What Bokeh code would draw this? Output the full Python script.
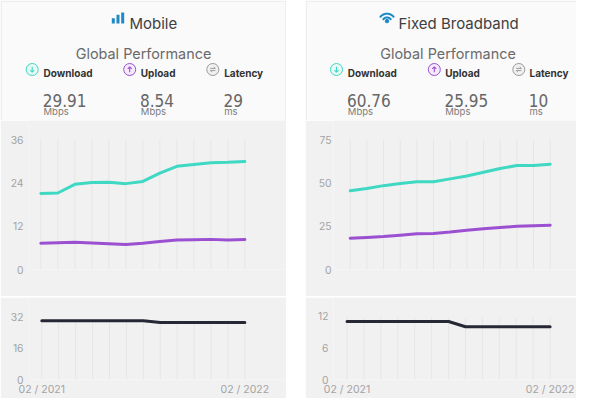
import math
from bokeh.plotting import figure
from bokeh.layouts import row, column
from bokeh.models import Range1d, FixedTicker, Spacer
from bokeh.core.properties import value
from bokeh.embed import file_html
from bokeh.resources import INLINE

# ---------------- data ----------------
months = ["02 / 2021", "03 / 2021", "04 / 2021", "05 / 2021", "06 / 2021", "07 / 2021",
          "08 / 2021", "09 / 2021", "10 / 2021", "11 / 2021", "12 / 2021", "01 / 2022", "02 / 2022"]
month_idx = list(range(len(months)))

mobile_download = [21.1, 21.2, 23.6, 24.1, 24.2, 23.8, 24.4, 26.7, 28.6, 29.1, 29.6, 29.7, 29.91]
mobile_upload = [7.3, 7.4, 7.55, 7.35, 7.15, 6.95, 7.25, 7.75, 8.15, 8.25, 8.35, 8.2, 8.3]
mobile_latency = [30, 30, 30, 30, 30, 30, 30, 29, 29, 29, 29, 29, 29]

fixed_download = [45.5, 46.8, 48.4, 49.7, 50.7, 50.7, 52.3, 54.0, 56.1, 58.3, 60.0, 60.0, 60.76]
fixed_upload = [18.1, 18.5, 19.0, 19.8, 20.6, 20.8, 21.6, 22.7, 23.5, 24.3, 24.9, 25.3, 25.6]
fixed_latency = [11, 11, 11, 11, 11, 11, 11, 10, 10, 10, 10, 10, 10]

summary_labels = ["Download", "Upload", "Latency"]
summary_units = ["Mbps", "Mbps", "ms"]
mobile_summary = ["29.91", "8.54", "29"]
fixed_summary = ["60.76", "25.95", "10"]

mobile_speed_ticks = [0, 12, 24, 36]
mobile_latency_ticks = [0, 16, 32]
fixed_speed_ticks = [0, 25, 50, 75]
fixed_latency_ticks = [0, 6, 12]

# ---------------- style ----------------
FONT = "Inter"
NUM_FONT = "DejaVu Sans Condensed"
TEAL = "#3fd8c2"
PURPLE = "#9b50d2"
DARK = "#262835"
BLUE = "#1d8ac6"
CHART_BG = "#f1f1f1"
CARD_BG = "#fafafa"
GRID = "#e6e6e6"
TICK = "#a3a3a3"

HEADER_H, UPPER_H, SEP_H, LOWER_H = 120, 176, 1, 101


def base_fig(width, height, xr, yr, **kw):
    opts = dict(width=width, height=height, x_range=xr, y_range=yr,
                output_backend="svg", toolbar_location=None,
                min_border=0, outline_line_color=None)
    opts.update(kw)
    p = figure(**opts)
    p.frame_align = False
    return p


def header(width, x0, x1, title, title_x, kind, values, label_x, icon_x, right_open):
    p = base_fig(width, HEADER_H, Range1d(x0, x1), Range1d(123, 3),
                 x_axis_type=None, y_axis_type=None,
                 background_fill_color="white", border_fill_color="white")
    # card
    p.quad(left=[x0 + 0.6], right=[x1 + 5 if right_open else x1 - 0.6], top=[3.6], bottom=[140],
           fill_color=CARD_BG, line_color="#e6e6e6", line_width=1)
    # title icon
    if kind == "bars":
        bx = title_x - 17.7
        p.quad(left=[bx, bx + 4.7, bx + 9.4], right=[bx + 3, bx + 7.7, bx + 12.4],
               top=[20.7, 17.3, 15], bottom=[26, 26, 26],
               fill_color=BLUE, line_color=None)
    else:
        cx, cy = title_x - 11.5, 24.8
        xs, ys = [], []
        for r in (4.8, 8.6):
            angs = [math.radians(40 + i * 5) for i in range(21)]
            xs.append([cx + r * math.cos(a) for a in angs])
            ys.append([cy - r * math.sin(a) for a in angs])
        p.multi_line(xs, ys, line_color=BLUE, line_width=2, line_cap="round")
        p.scatter([cx], [cy - 1.2], size=3.5, color=BLUE)
    p.text([title_x], [26.3], text=[title], text_font=value(FONT),
           text_font_size="15px", text_color="#404040",
           text_align="left", text_baseline="alphabetic")
    p.text([(x0 + x1) / 2 if not right_open else 450.5], [56.3], text=["Global Performance"],
           text_font=value(FONT), text_font_size="14.4px", text_color="#6a6a6a",
           text_align="center", text_baseline="alphabetic")
    # metric icons
    cols = [TEAL, PURPLE, "#9a9a9a"]
    fills = ["#e7faf6", "#f4eafb", "#f1f1f1"]
    cy = 72
    p.scatter(icon_x, [cy] * 3, size=12, line_color=cols, fill_color=fills, line_width=1)
    ax = icon_x[0]
    p.multi_line([[ax, ax], [ax - 2, ax, ax + 2]], [[cy - 2.7, cy + 2.6], [cy + 0.7, cy + 2.7, cy + 0.7]],
                 line_color=TEAL, line_width=1.1)
    ax = icon_x[1]
    p.multi_line([[ax, ax], [ax - 2, ax, ax + 2]], [[cy + 2.7, cy - 2.6], [cy - 0.7, cy - 2.7, cy - 0.7]],
                 line_color=PURPLE, line_width=1.1)
    ax = icon_x[2]
    p.multi_line([[ax - 2.5, ax + 2.5, ax + 1.0], [ax + 2.5, ax - 2.5, ax - 1.0]],
                 [[cy - 1.1, cy - 1.1, cy - 2.4], [cy + 1.1, cy + 1.1, cy + 2.4]],
                 line_color="#9a9a9a", line_width=1)
    p.text(label_x, [75.5] * 3, text=summary_labels, text_font=value(FONT),
           text_font_size="10px", text_font_style="bold", text_color="#333333",
           text_align="left", text_baseline="alphabetic")
    p.text([x - 0.8 for x in label_x], [102.5] * 3, text=values, text_font=value(NUM_FONT),
           text_font_size="17px", text_color="#666666",
           text_align="left", text_baseline="alphabetic")
    p.text(label_x, [113.8] * 3, text=summary_units, text_font=value(FONT),
           text_font_size="9.5px", text_color="#7a7a7a",
           text_align="left", text_baseline="alphabetic")
    return p


def style_yaxis(p, ticks, standoff):
    ax = p.yaxis[0]
    ax.ticker = FixedTicker(ticks=ticks)
    ax.axis_line_color = None
    ax.major_tick_line_color = None
    ax.minor_tick_line_color = None
    ax.major_tick_in = 0
    ax.major_tick_out = 0
    ax.major_label_standoff = standoff
    ax.major_label_text_color = TICK
    ax.major_label_text_font = FONT
    ax.major_label_text_font_size = "10.3px"


def speed_chart(width, xr, yend, ticks, download, upload, standoff):
    p = base_fig(width, UPPER_H, Range1d(*xr), Range1d(0, yend),
                 x_axis_location=None, min_border_left=28, min_border_bottom=27,
                 background_fill_color=CHART_BG, border_fill_color=CHART_BG)
    p.xgrid.visible = False
    p.ygrid.visible = False
    style_yaxis(p, ticks, standoff)
    p.segment(x0=month_idx, y0=[0] * len(month_idx), x1=month_idx,
              y1=[ticks[-1]] * len(month_idx), line_color=GRID, line_width=1)
    p.line(month_idx, download, line_color=TEAL, line_width=3, line_join="round", line_cap="round")
    p.line(month_idx, upload, line_color=PURPLE, line_width=3, line_join="round", line_cap="round")
    return p


def latency_chart(width, xr, yend, ticks, latency, grid_top, standoff):
    p = base_fig(width, LOWER_H, Range1d(*xr), Range1d(0, yend),
                 min_border_left=28, min_border_bottom=17,
                 background_fill_color=CHART_BG, border_fill_color=CHART_BG)
    p.xgrid.visible = False
    p.ygrid.visible = False
    style_yaxis(p, ticks, standoff)
    xa = p.xaxis[0]
    xa.ticker = FixedTicker(ticks=[month_idx[0], month_idx[-1]])
    xa.major_label_overrides = {month_idx[0]: months[0], month_idx[-1]: months[-1]}
    xa.axis_line_color = None
    xa.major_tick_line_color = None
    xa.minor_tick_line_color = None
    xa.major_tick_in = 0
    xa.major_tick_out = 0
    xa.major_label_standoff = 3
    xa.major_label_text_color = TICK
    xa.major_label_text_font = FONT
    xa.major_label_text_font_size = "10.5px"
    p.segment(x0=month_idx, y0=[0] * len(month_idx), x1=month_idx,
              y1=[grid_top] * len(month_idx), line_color=GRID, line_width=1)
    p.line(month_idx, latency, line_color=DARK, line_width=3, line_join="round", line_cap="round")
    return p


def separator(width):
    return base_fig(width, SEP_H, Range1d(0, 1), Range1d(0, 1),
                    x_axis_type=None, y_axis_type=None,
                    background_fill_color="#707070", border_fill_color="#707070")


LW, RW = 286, 271

left = column(
    header(LW, 3, 289, "Mobile", 132, "bars", mobile_summary, [46, 143.3, 226.7],
           [34.7, 132.2, 215.3], False),
    speed_chart(LW, (-0.724, 14.45), 41.3, mobile_speed_ticks, mobile_download, mobile_upload, 5),
    separator(LW),
    latency_chart(LW, (-0.786, 14.46), 41.8, mobile_latency_ticks, mobile_latency, 30, 5),
)
right = column(
    header(RW, 308, 579, "Fixed Broadband", 401, "wifi", fixed_summary, [350.3, 447.7, 532],
           [339, 436.8, 521.3], True),
    speed_chart(RW, (-1.0, 13.58), 86.0, fixed_speed_ticks, fixed_download, fixed_upload, 2),
    separator(RW),
    latency_chart(RW, (-0.80, 13.56), 15.55, fixed_latency_ticks, fixed_latency, 11.7, 5),
)

layout = row(left, Spacer(width=19, height=398), right)

with open("out.html", "w") as f:
    f.write(file_html(layout, INLINE))
